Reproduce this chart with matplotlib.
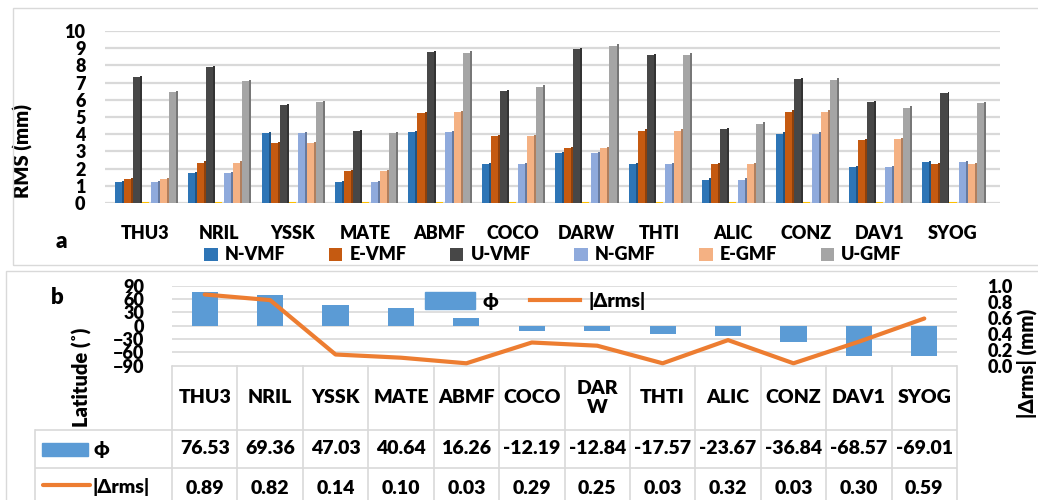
import numpy as np
import matplotlib.pyplot as plt
from matplotlib.patches import Rectangle
from matplotlib.lines import Line2D
import matplotlib.colors as mcolors

plt.rcParams['font.family'] = ['Lato', 'DejaVu Sans']
plt.rcParams['font.weight'] = 'heavy'
plt.rcParams['axes.labelweight'] = 'heavy'

# ---- data ----
stations = ['THU3', 'NRIL', 'YSSK', 'MATE', 'ABMF', 'COCO',
            'DARW', 'THTI', 'ALIC', 'CONZ', 'DAV1', 'SYOG']

n_vmf = [1.20, 1.75, 4.05, 1.20, 4.10, 2.25, 2.90, 2.27, 1.35, 4.02, 2.10, 2.38]
e_vmf = [1.37, 2.35, 3.46, 1.85, 5.23, 3.87, 3.20, 4.20, 2.25, 5.30, 3.67, 2.25]
u_vmf = [7.33, 7.90, 5.70, 4.17, 8.77, 6.50, 8.93, 8.60, 4.30, 7.20, 5.85, 6.40]
gap = [0.0] * 12
n_gmf = [1.21, 1.75, 4.05, 1.20, 4.10, 2.27, 2.90, 2.27, 1.35, 4.02, 2.08, 2.36]
e_gmf = [1.37, 2.35, 3.46, 1.85, 5.27, 3.87, 3.20, 4.20, 2.25, 5.30, 3.70, 2.27]
u_gmf = [6.46, 7.10, 5.85, 4.06, 8.73, 6.77, 9.15, 8.63, 4.62, 7.17, 5.54, 5.80]

phi = [76.53, 69.36, 47.03, 40.64, 16.26, -12.19, -12.84, -17.57, -23.67, -36.84, -68.57, -69.01]
drms = [0.89, 0.82, 0.14, 0.10, 0.03, 0.29, 0.25, 0.03, 0.32, 0.03, 0.30, 0.59]

series = [('N-VMF', n_vmf, '#2e75b6'), ('E-VMF', e_vmf, '#c55a11'),
          ('U-VMF', u_vmf, '#474747'), (None, gap, '#ffc000'),
          ('N-GMF', n_gmf, '#8faadc'), ('E-GMF', e_gmf, '#f4b183'),
          ('U-GMF', u_gmf, '#a5a5a5')]

W, H = 1038, 500
fig = plt.figure(figsize=(W / 100, H / 100), dpi=100)


def box(l, t, r, b):
    return [l / W, 1 - b / H, (r - l) / W, (b - t) / H]


# panel frames
fig.patches.append(Rectangle((13 / W, 1 - 265 / H), 1.2, 257 / H, transform=fig.transFigure,
                             fill=False, ec='#d9d9d9', lw=1))
fig.patches.append(Rectangle((6 / W, -0.1), 1.2, (1 - 271 / H) + 0.1, transform=fig.transFigure,
                             fill=False, ec='#d9d9d9', lw=1))

# ---- panel a ----
ax1 = fig.add_axes(box(105, 31, 1000, 203))
x = np.arange(len(stations))
slot = 0.123
bw = slot * 0.78
handles = []
for k, (name, vals, col) in enumerate(series):
    xs = x + (k - 3) * slot
    vals = np.array(vals)
    dark = np.array(mcolors.to_rgb(col)) * 0.72
    if name is None:
        ax1.bar(xs, np.full(len(vals), 0.08), bw, bottom=vals - 0.04, color=col, zorder=3)
        continue
    # side face for a bit of depth
    ax1.bar(xs + bw / 2 + slot * 0.11, vals + 0.08, slot * 0.22, bottom=0.0,
            color=dark, zorder=2)
    b = ax1.bar(xs, vals, bw, color=col, zorder=3)
    handles.append((b, name))

ax1.set_xlim(-0.55, 11.64)
ax1.set_ylim(0, 10)
ax1.set_yticks(range(0, 11))
ax1.set_xticks(x)
ax1.set_xticklabels(stations)
ax1.tick_params(axis='y', length=0, pad=14, labelsize=13)
ax1.tick_params(axis='x', length=0, pad=16, labelsize=13)
ax1.grid(axis='y', color='#d9d9d9', lw=1.6, zorder=0)
for s in ax1.spines.values():
    s.set_visible(False)
ax1.set_ylabel('RMS (mm)', fontsize=14.5)
ax1.yaxis.set_label_coords(-72 / 895, 0.3)
fig.text(61 / W, 1 - 241 / H, 'a', fontsize=16, ha='center', va='center')
fig.legend([h for h, _ in handles], [n for _, n in handles], ncol=6,
           loc='center', bbox_to_anchor=(553 / W, 1 - 255 / H), frameon=False,
           fontsize=13, handlelength=0.75, handleheight=0.75, columnspacing=2.4,
           handletextpad=0.4, borderpad=0)

# ---- panel b ----
L, R, T, B = 172, 957, 285.7, 365.7
ax2 = fig.add_axes(box(L, T, R, B))
ax2.bar(x, phi, 0.4, color='#5b9bd5', zorder=3)
ax2.set_xlim(-0.5, 11.5)
ax2.set_ylim(-90, 90)
ax2.set_yticks(range(-90, 91, 30))
ax2.set_xticks([])
ax2.tick_params(axis='y', length=0, pad=20, labelsize=13)
ax2.grid(axis='y', color='#d9d9d9', lw=1.2, zorder=0)
for s in ax2.spines.values():
    s.set_visible(False)

ax3 = ax2.twinx()
ax3.plot(x, drms, color='#ed7d31', lw=3, zorder=4, solid_capstyle='round')
ax3.set_ylim(0, 1.0)
ax3.set_yticks(np.arange(0, 1.01, 0.2))
ax3.set_yticklabels(['%.1f' % v for v in np.arange(0, 1.01, 0.2)])
ax3.tick_params(axis='y', length=0, pad=22, labelsize=13)
for s in ax3.spines.values():
    s.set_visible(False)

fig.text(82 / W, 1 - 377 / H, 'Latitude (˚)', rotation=90, fontsize=14.5,
         ha='center', va='center')
fig.text(1027 / W, 1 - 363 / H, '|Δrms| (mm)', rotation=90, fontsize=14.5,
         ha='center', va='center')
fig.text(57 / W, 1 - 298 / H, 'b', fontsize=16, ha='center', va='center')

# legend inside panel b
leg_h = [Rectangle((0, 0), 1, 1, color='#5b9bd5'),
         Line2D([0], [0], color='#ed7d31', lw=3)]
fig.legend(leg_h, ['ϕ', '|Δrms|'], ncol=2, loc='center',
           bbox_to_anchor=(535 / W, 1 - 301 / H), frameon=False, fontsize=14,
           handlelength=2.6, handleheight=1.0, columnspacing=1.6,
           handletextpad=0.4, borderpad=0)

# ---- data table ----
tab = fig.add_axes(box(35, B, R, 500), frameon=False)
tab.set_xlim(0, R - 35)
tab.set_ylim(500, B)
tab.set_xticks([])
tab.set_yticks([])
cw = (R - L) / 12.0
x0 = L - 35
rows = [B, 430, 467.7, 510]
gc = '#d9d9d9'
for i in range(13):
    tab.plot([x0 + i * cw] * 2, [rows[0], rows[-1]], color=gc, lw=1.2, clip_on=False)
tab.plot([0, 0], [rows[1], rows[-1]], color=gc, lw=1.2, clip_on=False)
tab.plot([x0, x0 + 12 * cw], [rows[0]] * 2, color=gc, lw=1.2)
for yy in rows[1:3]:
    tab.plot([0, x0 + 12 * cw], [yy] * 2, color=gc, lw=1.2)

for i, st in enumerate(stations):
    cx = x0 + (i + 0.5) * cw
    lab = 'DAR\nW' if st == 'DARW' else st
    tab.text(cx, (rows[0] + rows[1]) / 2, lab, ha='center', va='center',
             fontsize=14, linespacing=1.1)
    tab.text(cx, (rows[1] + rows[2]) / 2, '%.2f' % phi[i], ha='center', va='center', fontsize=14)
    tab.text(cx, 489, '%.2f' % drms[i], ha='center', va='center', fontsize=14)

tab.add_patch(Rectangle((7, 443), 46, 13, color='#5b9bd5', clip_on=False))
tab.text(58, 449, 'ϕ', ha='left', va='center', fontsize=14)
tab.plot([8, 55], [485, 485], color='#ed7d31', lw=3, solid_capstyle='round', clip_on=False)
tab.text(58, 487, '|Δrms|', ha='left', va='center', fontsize=14)

fig.savefig('out.png', dpi=100)
